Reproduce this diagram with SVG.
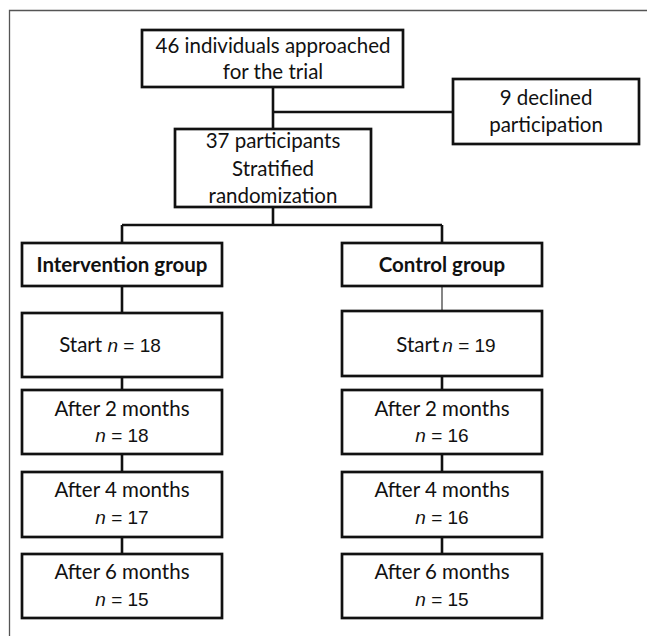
<svg xmlns="http://www.w3.org/2000/svg" width="647" height="636" viewBox="0 0 647 636">
<style>
.box{fill:#fff;stroke:#111;stroke-width:2.7}
.t{font-family:Lato,"Open Sans",sans-serif;font-size:20.5px;fill:#111;text-anchor:middle}
.b{font-weight:bold}
.a{font-family:"Liberation Sans",Arial,sans-serif;font-size:19px}
.i{font-style:italic}
.c{stroke:#111;stroke-width:2.6;fill:none}
.thin{stroke:#222;stroke-width:1.1;fill:none}
</style>
<rect width="647" height="636" fill="#fff"/>
<path d="M9.5,636 V10.5 H647" fill="none" stroke="#555" stroke-width="1.3"/>
<g id="connectors">
<path class="c" d="M273,87 V129 M273,112 H453 M273,207 V225 M122,225 H442 M122,225 V243 M442,225 V243 M122,286 V313"/>
<path class="thin" d="M442,286 V311"/>
<path class="c" d="M122,377 V390 M442,376 V390 M122,454 V472 M442,454 V472 M122,537 V554 M442,537 V554"/>
</g>
<g id="approached"><rect class="box" x="142" y="30" width="261" height="57"/>
<text class="t" x="273" y="53">46 individuals approached</text><text class="t" x="273" y="79">for the trial</text></g>
<g id="declined"><rect class="box" x="453" y="79" width="186" height="65"/>
<text class="t" x="546" y="105">9 declined</text><text class="t" x="546" y="132">participation</text></g>
<g id="randomization"><rect class="box" x="175" y="129" width="196" height="78"/>
<text class="t" x="273" y="148">37 participants</text><text class="t" x="273" y="176">Stratified</text><text class="t" x="273" y="203">randomization</text></g>
<g id="intervention"><rect class="box" x="22" y="243" width="200" height="43"/>
<text class="t b" x="122" y="272">Intervention group</text></g>
<g id="control"><rect class="box" x="342" y="243" width="200" height="43"/>
<text class="t b" x="442" y="272">Control group</text></g>
<g id="i-start"><rect class="box" x="22" y="313" width="200" height="64"/>
<text class="t" x="110" y="352">Start <tspan class="a i">n</tspan><tspan class="a"> = 18</tspan></text></g>
<g id="c-start"><rect class="box" x="342" y="311" width="200" height="65"/>
<text class="t" x="446" y="352">Start<tspan class="a i" dx="3">n</tspan><tspan class="a"> = 19</tspan></text></g>
<g id="i-2"><rect class="box" x="22" y="390" width="200" height="64"/>
<text class="t" x="122" y="416">After 2 months</text><text class="t a" x="122" y="442"><tspan class="i">n</tspan> = 18</text></g>
<g id="c-2"><rect class="box" x="342" y="390" width="200" height="64"/>
<text class="t" x="442" y="416">After 2 months</text><text class="t a" x="442" y="442"><tspan class="i">n</tspan> = 16</text></g>
<g id="i-4"><rect class="box" x="22" y="472" width="200" height="65"/>
<text class="t" x="122" y="497">After 4 months</text><text class="t a" x="122" y="524"><tspan class="i">n</tspan> = 17</text></g>
<g id="c-4"><rect class="box" x="342" y="472" width="200" height="65"/>
<text class="t" x="442" y="497">After 4 months</text><text class="t a" x="442" y="524"><tspan class="i">n</tspan> = 16</text></g>
<g id="i-6"><rect class="box" x="22" y="554" width="200" height="64"/>
<text class="t" x="122" y="579">After 6 months</text><text class="t a" x="122" y="606"><tspan class="i">n</tspan> = 15</text></g>
<g id="c-6"><rect class="box" x="342" y="554" width="200" height="64"/>
<text class="t" x="442" y="579">After 6 months</text><text class="t a" x="442" y="606"><tspan class="i">n</tspan> = 15</text></g>
</svg>
